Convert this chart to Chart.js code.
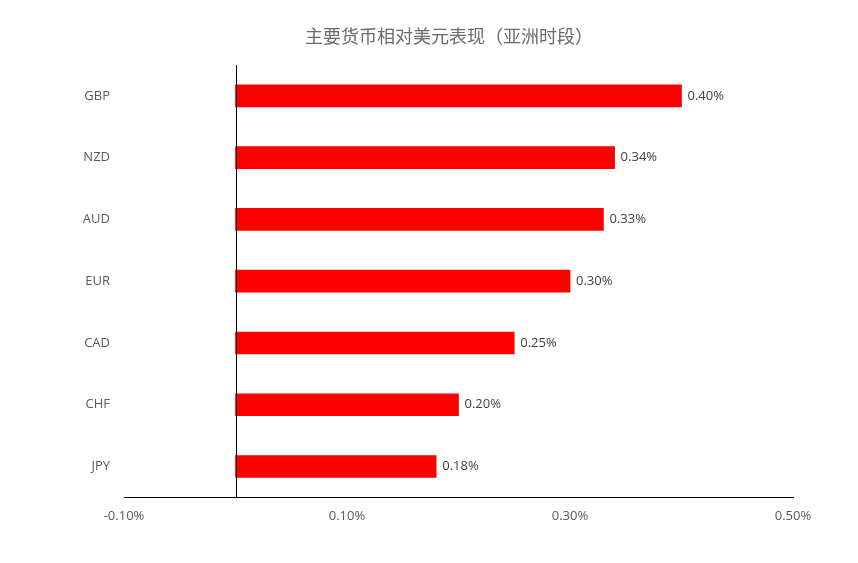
<!DOCTYPE html>
<html>
<head>
<meta charset="utf-8">
<script src="https://cdn.jsdelivr.net/npm/chart.js@4"></script>
<style>
    html, body { margin: 0; padding: 0; background: #fff; }
    #wrap { width: 858px; height: 563px; }
</style>
</head>
<body>
<div id="wrap"><canvas id="fxChart"></canvas></div>
<script>
const titleText = '主要货币相对美元表现（亚洲时段）'
const currencies = ['GBP', 'NZD', 'AUD', 'EUR', 'CAD', 'CHF', 'JPY']
const changePct = [0.40, 0.34, 0.33, 0.30, 0.25, 0.20, 0.18]
const xTickValues = [-0.10, 0.10, 0.30, 0.50]

function fmtPct(v){
    return v.toFixed(2) + '%'
}

// title, vertical line at zero, value labels at bar ends
const barExtras = {
    id: 'barExtras',
    afterDatasetsDraw(chart){
        const ctx = chart.ctx
        const xs = chart.scales.x
        const area = chart.chartArea
        const zx = Math.round(xs.getPixelForValue(0)) + 0.5

        ctx.save()
        ctx.strokeStyle = '#000'
        ctx.lineWidth = 1
        ctx.beginPath()
        ctx.moveTo(zx, area.top)
        ctx.lineTo(zx, area.bottom)
        ctx.stroke()

        ctx.font = '13px "Open Sans"'
        ctx.fillStyle = '#404040'
        ctx.textAlign = 'left'
        ctx.textBaseline = 'middle'
        chart.getDatasetMeta(0).data.forEach((bar, i) => {
            ctx.fillText(fmtPct(changePct[i]), bar.x + 6, bar.y)
        })

        ctx.font = '18px "Noto Sans CJK SC"'
        ctx.fillStyle = '#6b6b6b'
        ctx.textAlign = 'center'
        ctx.fillText(titleText, 449, 36)
        ctx.restore()
    }
}

Chart.defaults.font.family = '"Open Sans", sans-serif'
Chart.defaults.font.size = 13
Chart.defaults.color = '#595959'

new Chart(document.getElementById('fxChart'), {
    type: 'bar',
    data: {
        labels: currencies,
        datasets: [{
            data: changePct,
            backgroundColor: '#FF0000',
            borderWidth: 0,
            barThickness: 22
        }]
    },
    options: {
        indexAxis: 'y',
        responsive: true,
        maintainAspectRatio: false,
        animation: false,
        layout: {
            padding: { left: 0, right: 65, top: 65, bottom: 28 }
        },
        plugins: {
            legend: { display: false },
            tooltip: { enabled: false },
            title: { display: false }
        },
        scales: {
            x: {
                min: -0.10,
                max: 0.50,
                afterBuildTicks(scale){
                    scale.ticks = xTickValues.map(v => ({ value: v }))
                },
                grid: { display: false, drawTicks: false },
                border: { display: true, color: '#000', width: 1 },
                ticks: {
                    padding: 11,
                    color: '#595959',
                    callback: v => fmtPct(v)
                }
            },
            y: {
                afterFit(scale){
                    scale.width = 124
                },
                grid: { display: false, drawTicks: false },
                border: { display: false },
                ticks: { padding: 14, color: '#595959' }
            }
        }
    },
    plugins: [barExtras]
})
</script>
</body>
</html>
